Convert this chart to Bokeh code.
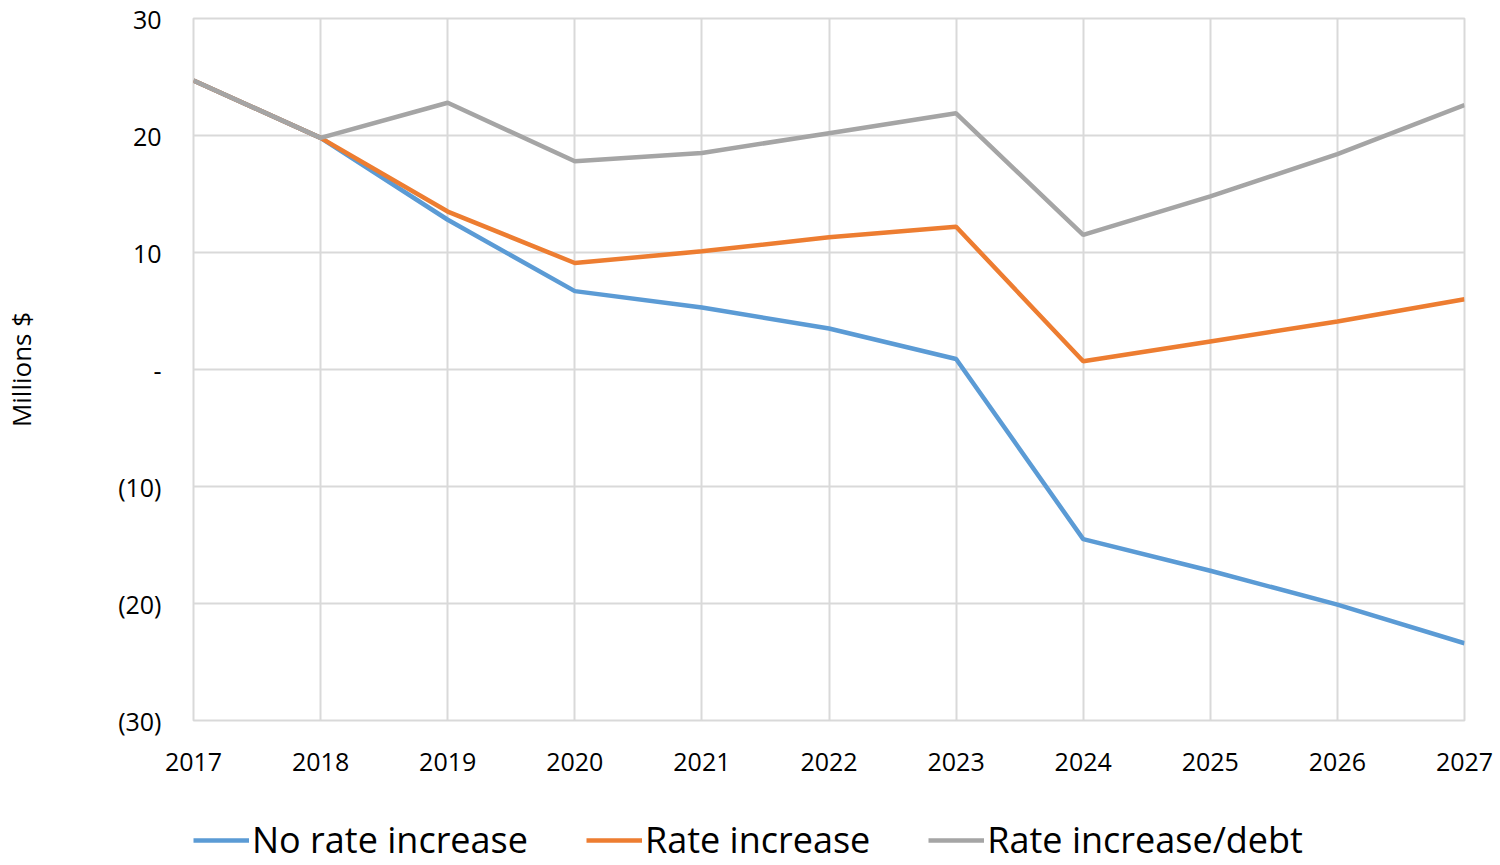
from bokeh.plotting import figure
from bokeh.layouts import column
from bokeh.models import Range1d, FixedTicker, CustomJSTickFormatter, Legend, LegendItem
from bokeh.embed import file_html
from bokeh.resources import INLINE

years = [2017, 2018, 2019, 2020, 2021, 2022, 2023, 2024, 2025, 2026, 2027]
no_rate_increase = [24.7, 19.8, 12.8, 6.7, 5.3, 3.5, 0.9, -14.5, -17.2, -20.1, -23.4]
rate_increase = [24.7, 19.8, 13.5, 9.1, 10.1, 11.3, 12.2, 0.7, 2.4, 4.1, 6.0]
rate_increase_debt = [24.7, 19.8, 22.8, 17.8, 18.5, 20.2, 21.9, 11.5, 14.8, 18.4, 22.6]
y_ticks = [-30, -20, -10, 0, 10, 20, 30]
series_names = ["No rate increase", "Rate increase", "Rate increase/debt"]
series_colors = ["#5B9BD5", "#ED7D31", "#A5A5A5"]
series_values = [no_rate_increase, rate_increase, rate_increase_debt]

FONT = "Open Sans"

p = figure(width=1500, height=800, output_backend="svg", toolbar_location=None,
           x_range=Range1d(2017, 2027), y_range=Range1d(-30, 30),
           min_border_left=192, min_border_right=36, min_border_top=18, min_border_bottom=80)

p.outline_line_color = "#D9D9D9"
p.outline_line_width = 2
p.background_fill_color = "white"
p.border_fill_color = "white"

p.xgrid.ticker = FixedTicker(ticks=years)
p.ygrid.ticker = FixedTicker(ticks=y_ticks)
for g in (p.xgrid, p.ygrid):
    g.grid_line_color = "#D9D9D9"
    g.grid_line_width = 2

p.xaxis.ticker = FixedTicker(ticks=years)
p.yaxis.ticker = FixedTicker(ticks=y_ticks)
p.yaxis.formatter = CustomJSTickFormatter(code="""
if (tick == 0) { return "-"; }
if (tick < 0) { return "(" + Math.abs(tick) + ")"; }
return "" + tick;
""")
for ax in (p.xaxis, p.yaxis):
    ax.axis_line_color = None
    ax.major_tick_line_color = None
    ax.minor_tick_line_color = None
    ax.major_label_text_font = FONT
    ax.major_label_text_font_size = "25px"
    ax.major_label_text_color = "#000000"
p.xaxis.major_label_standoff = 26
p.yaxis.major_label_standoff = 26
p.yaxis.axis_label = "Millions $"
p.yaxis.axis_label_text_font = FONT
p.yaxis.axis_label_text_font_size = "26px"
p.yaxis.axis_label_text_font_style = "normal"
p.yaxis.axis_label_text_color = "#000000"
p.yaxis.axis_label_standoff = 76

for vals, col in zip(series_values, series_colors):
    p.line(years, vals, line_color=col, line_width=4.5)

# legend strip below the chart
lg = figure(width=1500, height=65, output_backend="svg", toolbar_location=None,
            x_range=Range1d(0, 1), y_range=Range1d(0, 1),
            x_axis_location=None, y_axis_location=None,
            min_border=0, min_border_left=0, min_border_right=0,
            min_border_top=0, min_border_bottom=0)
lg.outline_line_color = None
lg.xgrid.visible = False
lg.ygrid.visible = False
lg.border_fill_color = "white"
lg.background_fill_color = "white"

items = []
for name, vals, col in zip(series_names, series_values, series_colors):
    r = lg.line(years, vals, line_color=col, line_width=4.5)
    items.append(LegendItem(label=name, renderers=[r]))

legend = Legend(items=items, orientation="horizontal", location=(0, 1))
legend.label_text_font = FONT
legend.label_text_font_size = "36px"
legend.label_text_color = "#000000"
legend.glyph_width = 56
legend.glyph_height = 44
legend.label_standoff = 3
legend.spacing = 58
legend.padding = 0
legend.margin = 0
legend.border_line_color = None
legend.background_fill_alpha = 0
lg.add_layout(legend, "center")

layout = column(p, lg, spacing=0)
open("out.html", "w").write(file_html(layout, INLINE))
